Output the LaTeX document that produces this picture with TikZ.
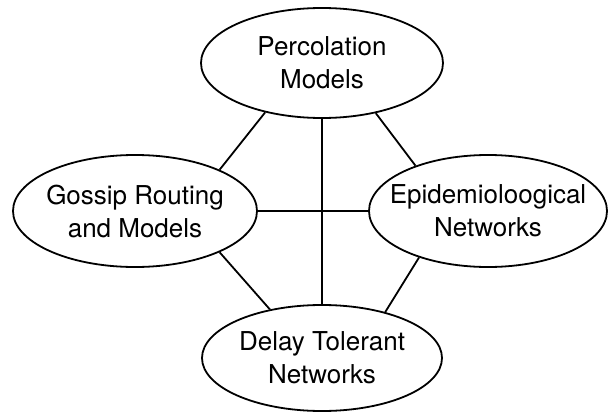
\documentclass[tikz,border=0pt]{standalone}
\usepackage{fontspec}
\setmainfont{TeX Gyre Heros}
\usetikzlibrary{shapes.geometric}
\begin{document}
\begin{tikzpicture}[x=1pt,y=-1pt,
  topic/.style={draw=black, line width=1.8pt, ellipse, inner sep=0pt,
    minimum width=#1},
  topic/.default=242pt,
  caption/.style={align=center, font=\fontsize{26}{33}\selectfont, inner sep=0pt},
  link/.style={draw=black, line width=1.8pt}]
  \fill[white] (0,0) rectangle (608,412);
  \useasboundingbox (0,0) rectangle (608,412);

  % the four research areas
  \node[topic=242pt, minimum height=110pt] (perc) at (322,63) {};
  \node[topic=244pt, minimum height=112pt] (gossip) at (135,211) {};
  \node[topic=238pt, minimum height=112pt] (epi) at (488,211) {};
  \node[topic=240pt, minimum height=106pt] (dtn) at (322,358) {};

  \node[caption] (percT) at (perc.center) {Percolation\\Models};
  \node[caption] (gossipT) at (gossip.center) {Gossip Routing\\and Models};
  \node[caption] (epiT) at (epi.center) {Epidemioloogical\\Networks};
  \node[caption] (dtnT) at (dtn.center) {Delay Tolerant\\Networks};

  % links between the areas
  \draw[link] (perc.221.8) -- (gossip.26.8);
  \draw[link] (perc.317.2) -- (epi.148.3);
  \draw[link] (perc.south) -- (dtn.north);
  \draw[link] (gossip.east) -- (epi.west);
  \draw[link] (gossip.334.2) -- (dtn.137.7);
  \draw[link] (epi.214.6) -- (dtn.36.7);
\end{tikzpicture}
\end{document}
